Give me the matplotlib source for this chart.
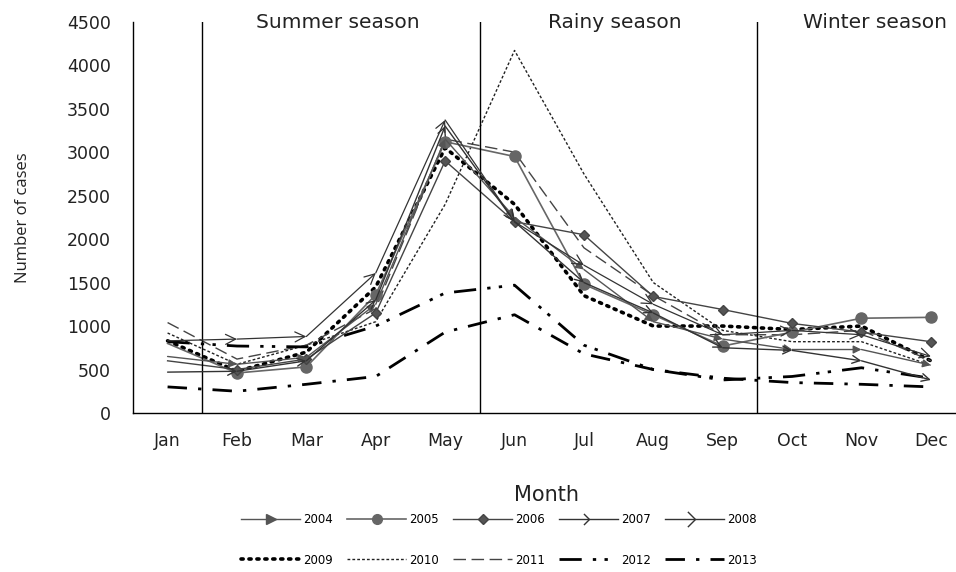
import numpy as np
import matplotlib
matplotlib.use('Agg')
import matplotlib.pyplot as plt
from matplotlib.lines import Line2D
from matplotlib.path import Path
from matplotlib.legend_handler import HandlerLine2D

plt.rcParams['font.family'] = ['DejaVu Sans']

months = ['Jan', 'Feb', 'Mar', 'Apr', 'May', 'Jun', 'Jul', 'Aug', 'Sep', 'Oct', 'Nov', 'Dec']
seasons = ['Summer season', 'Rainy season', 'Winter season']
season_breaks = [0.5, 4.5, 8.5]
season_label_x = [2.45, 6.45, 10.2]

y2004 = [650, 560, 640, 1250, 3150, 2250, 1650, 1050, 850, 730, 730, 550]
y2005 = [800, 460, 530, 1360, 3120, 2950, 1480, 1130, 770, 930, 1090, 1100]
y2006 = [600, 500, 620, 1150, 2900, 2200, 2050, 1340, 1190, 1030, 930, 820]
y2007 = [470, 480, 600, 1300, 3300, 2200, 1500, 1150, 750, 720, 600, 380]
y2008 = [830, 850, 880, 1610, 3370, 2200, 1700, 1250, 900, 950, 900, 650]
y2009 = [830, 480, 700, 1450, 3050, 2400, 1350, 1000, 1000, 960, 1000, 600]
y2010 = [920, 560, 780, 1050, 2400, 4170, 2750, 1500, 950, 820, 820, 550]
y2011 = [1040, 620, 780, 1200, 3150, 3000, 1900, 1350, 900, 900, 950, 600]
y2012 = [820, 770, 760, 1000, 1380, 1470, 780, 500, 380, 420, 520, 400]
y2013 = [300, 250, 330, 420, 930, 1130, 680, 500, 400, 350, 330, 300]

x = np.arange(len(months))

# open chevron used for the 2007/2008 arrow ends
chevron = Path([(-1, 1), (0, 0), (-1, -1)], [Path.MOVETO, Path.LINETO, Path.LINETO])


class EndMarker(HandlerLine2D):
    # put the legend marker at the right end of the sample line
    def get_xdata(self, legend, xdescent, ydescent, width, height, fontsize):
        xd = np.array([-xdescent, -xdescent + width])
        return xd, np.array([-xdescent + width])


fig = plt.figure(figsize=(9.56, 5.72), dpi=100)
ax = fig.add_axes([0.139, 0.278, 0.871, 0.684])


def arrow_series(vals, color, style, scale, lw=1.0):
    for i in range(1, len(vals)):
        ax.annotate('', xy=(x[i], vals[i]), xytext=(x[i - 1], vals[i - 1]),
                    arrowprops=dict(arrowstyle=style, color=color, lw=lw,
                                    mutation_scale=scale, shrinkA=0, shrinkB=0))


dot = (0, (0.6, 1.6))
fine = (0, (2, 1.5))
dash = (0, (9, 4))
dash_dot_dot = (0, (8, 4, 1.2, 3, 1.2, 4))
dash_dot = (0, (7, 4, 1.2, 4))

# dash / dot series
ax.plot(x, y2009, color='black', lw=2.6, linestyle=dot, dash_capstyle='round')
ax.plot(x, y2010, color='#222222', lw=1.0, linestyle=fine)
ax.plot(x, y2011, color='#444444', lw=1.0, linestyle=dash)
ax.plot(x, y2012, color='black', lw=2.0, linestyle=dash_dot_dot)
ax.plot(x, y2013, color='black', lw=2.0, linestyle=dash_dot)

# arrow series
arrow_series(y2004, '#555555', '-|>', 12)
arrow_series(y2007, '#333333', '->', 14)
arrow_series(y2008, '#333333', '->', 18, lw=0.9)

# marker series (no marker on the January point, as in the source)
ax.plot(x, y2005, color='#666666', lw=1.2, marker='o', markersize=8,
        markerfacecolor='#666666', markevery=range(1, 12))
ax.plot(x, y2006, color='#444444', lw=1.0, marker='D', markersize=5.5,
        markerfacecolor='#555555', markevery=range(1, 12))

for b in season_breaks:
    ax.axvline(b, color='black', lw=1.0)
for name, sx in zip(seasons, season_label_x):
    ax.text(sx, 4495, name, ha='center', va='center', fontsize=14.5, color='#222222')

ax.set_xlim(-0.5, 11.5)
ax.set_ylim(0, 4500)
ax.set_yticks(np.arange(0, 4501, 500))
ax.set_xticks(x)
ax.set_xticklabels(months)
ax.tick_params(axis='both', length=0, labelsize=12.5, colors='#222222')
ax.tick_params(axis='x', pad=14)
ax.tick_params(axis='y', pad=16)
for s in ['top', 'right']:
    ax.spines[s].set_visible(False)
for s in ['left', 'bottom']:
    ax.spines[s].set_linewidth(1.0)
    ax.spines[s].set_color('black')

ax.set_xlabel('Month', fontsize=15, color='#222222')
ax.xaxis.set_label_coords(0.497, -0.183)
ax.set_ylabel('Number of cases', fontsize=12, color='#222222', family='Open Sans')
ax.yaxis.set_label_coords(-0.122, 0.5)

labels = ['2004', '2005', '2006', '2007', '2008', '2009', '2010', '2011', '2012', '2013']
handles = [
    Line2D([], [], color='#555555', lw=1.0, marker='>', markersize=7, markerfacecolor='#555555'),
    Line2D([], [], color='#666666', lw=1.2, marker='o', markersize=7, markerfacecolor='#666666'),
    Line2D([], [], color='#444444', lw=1.0, marker='D', markersize=5, markerfacecolor='#555555'),
    Line2D([], [], color='#333333', lw=1.0, marker=chevron, markersize=8, markerfacecolor='none'),
    Line2D([], [], color='#333333', lw=1.0, marker=chevron, markersize=11, markerfacecolor='none'),
    Line2D([], [], color='black', lw=2.6, linestyle=dot, dash_capstyle='round'),
    Line2D([], [], color='#222222', lw=1.0, linestyle=fine),
    Line2D([], [], color='#444444', lw=1.0, linestyle=dash),
    Line2D([], [], color='black', lw=2.0, linestyle=dash_dot_dot),
    Line2D([], [], color='black', lw=2.0, linestyle=dash_dot),
]
hmap = {h: EndMarker() for h in handles[:5]}
# legend fills by column, so interleave the two rows
order = [0, 5, 1, 6, 2, 7, 3, 8, 4, 9]
fig.legend([handles[i] for i in order], [labels[i] for i in order], handler_map=hmap,
           ncol=5, loc='center', bbox_to_anchor=(0.522, 0.056), frameon=False,
           fontsize=8.5, handlelength=5.0, handletextpad=0.25, columnspacing=1.2,
           labelspacing=2.3)

fig.savefig('out.png', dpi=100)
